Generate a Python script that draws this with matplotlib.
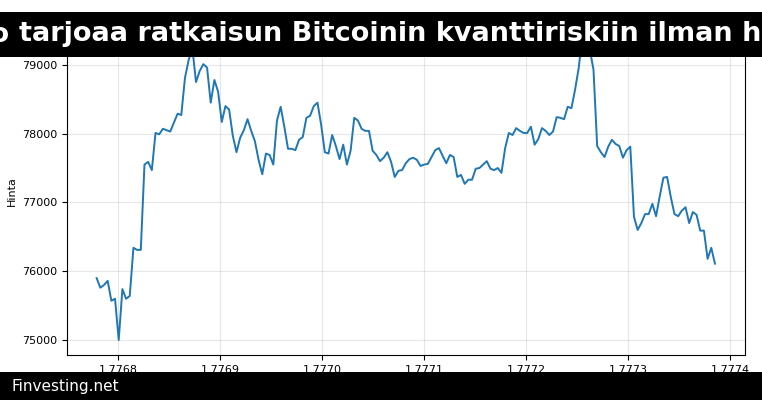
import matplotlib

matplotlib.use("Agg")
import matplotlib.pyplot as plt
import numpy as np
from matplotlib.patches import Rectangle
from matplotlib.ticker import FormatStrFormatter

TITLE = "BTQ-testiverkko tarjoaa ratkaisun Bitcoinin kvanttiriskiin ilman hard forkia"
SOURCE = "Finvesting.net"

prices = [
    75900, 75760, 75800, 75860, 75570, 75600, 75000, 75740, 75600, 75640,
    76340, 76310, 76310, 77550, 77590, 77470, 78010, 77990, 78070, 78050,
    78030, 78160, 78290, 78270, 78810, 79070, 79250, 78750, 78910, 79010,
    78960, 78450, 78780, 78610, 78170, 78400, 78350, 77970, 77730, 77940,
    78050, 78210, 78040, 77890, 77620, 77410, 77710, 77690, 77550, 78190,
    78390, 78100, 77780, 77780, 77760, 77910, 77950, 78230, 78260, 78400,
    78450, 78130, 77730, 77710, 77980, 77820, 77630, 77840, 77550, 77750,
    78230, 78190, 78070, 78040, 78040, 77750, 77690, 77600, 77650, 77730,
    77590, 77370, 77460, 77470, 77570, 77630, 77650, 77620, 77530, 77550,
    77560, 77660, 77760, 77790, 77680, 77570, 77690, 77660, 77370, 77400,
    77270, 77330, 77330, 77490, 77500, 77550, 77600, 77490, 77470, 77500,
    77430, 77790, 78010, 77980, 78080, 78040, 78010, 78010, 78100, 77840,
    77920, 78080, 78040, 77980, 78030, 78240, 78230, 78210, 78390, 78370,
    78640, 78960, 79440, 79410, 79220, 78930, 77820, 77730, 77660, 77810,
    77910, 77850, 77820, 77650, 77760, 77810, 76790, 76600, 76700, 76830,
    76830, 76980, 76800, 77090, 77360, 77370, 77080, 76830, 76800, 76880,
    76930, 76700, 76860, 76820, 76590, 76590, 76180, 76340, 76110,
]
# timestamps (units of 1e9 s), evenly sampled
t_start, t_end = 1.776779, 1.7773853
times = np.linspace(t_start, t_end, len(prices))

fig = plt.figure(figsize=(7.62, 4.0), dpi=100)
ax = fig.add_axes([0.088, 0.1125, 0.89, 0.82])
ax.plot(times, prices, color="#1f77b4", linewidth=1.4)
ax.set_xlim(1.77675, 1.777415)
ax.set_ylim(74782, 79550)
ax.set_yticks([75000, 76000, 77000, 78000, 79000])
ax.set_xticks([1.7768, 1.7769, 1.7770, 1.7771, 1.7772, 1.7773, 1.7774])
ax.xaxis.set_major_formatter(FormatStrFormatter("%.4f"))
ax.set_ylabel("Hinta", fontsize=8)
ax.tick_params(labelsize=8)
ax.grid(alpha=0.3)

# left edge of "tarjoaa" pinned at the same spot as the reference
fig.add_artist(Rectangle((0, 0.8575), 1, 0.1125, transform=fig.transFigure,
                         facecolor="black", zorder=5))
fig.text(0.025, 0.914, TITLE.split(" ", 1)[1], color="white", fontsize=19.5,
         fontweight="bold", ha="left", va="center", zorder=6)
fig.text(0.025, 0.914, TITLE.split(" ", 1)[0] + " ", color="white", fontsize=19.5,
         fontweight="bold", ha="right", va="center", zorder=6)
fig.add_artist(Rectangle((0, 0), 1, 0.07, transform=fig.transFigure,
                         facecolor="black", zorder=5))
fig.text(0.015, 0.035, SOURCE, color="white", fontsize=11, ha="left",
         va="center", zorder=6)

fig.savefig("out.png", dpi=100)
